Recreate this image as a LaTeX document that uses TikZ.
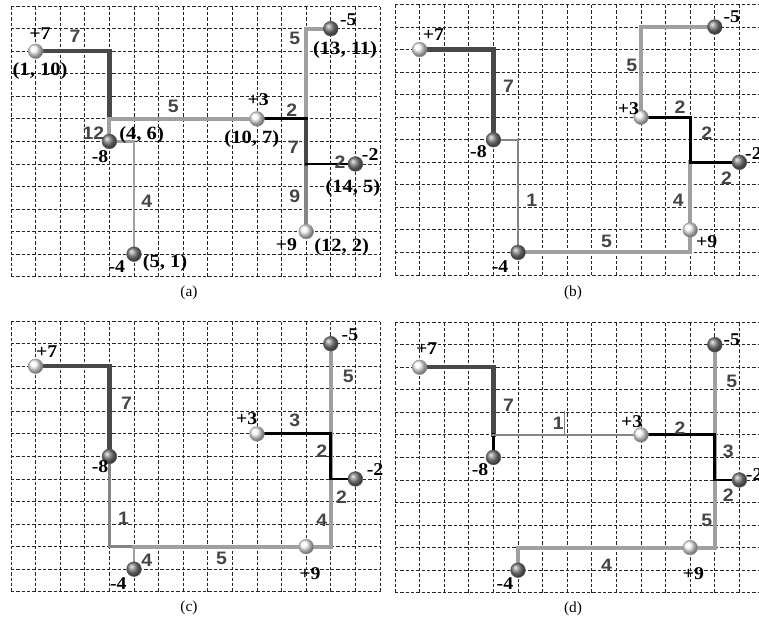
\documentclass[tikz,border=0pt]{standalone}
\usepackage{fontspec}
\setmainfont{Liberation Serif}[FakeStretch=1.1]
\setsansfont{Liberation Sans}[FakeStretch=1.08]
\newfontfamily\capfont{Liberation Serif}
\usetikzlibrary{backgrounds}

\definecolor{griddark}{HTML}{262626}
\definecolor{pathdark}{HTML}{484848}
\definecolor{pathmid}{HTML}{858585}
\definecolor{pathlight}{HTML}{A0A0A0}
\definecolor{weightgray}{HTML}{454545}

\tikzset{
  gridline/.style={griddark, line width=0.7pt, dash pattern=on 2.6pt off 1.4pt},
  darkpath/.style={pathdark, line width=3.2pt, line cap=rect},
  lightpath/.style={pathlight, line width=3pt, line cap=rect},
  midpath/.style={pathmid, line width=3pt, line cap=rect},
  thinpath/.style={pathmid, line width=1.8pt, line cap=rect},
  blackpath/.style={black, line width=2.2pt, line cap=rect},
  posball/.style={circle, inner sep=0pt, minimum size=11pt, shade, ball color=gray!6, draw=gray!80, line width=0.4pt},
  negball/.style={circle, inner sep=0pt, minimum size=11pt, shade, ball color=black!50, draw=black!65, line width=0.4pt},
  charge/.style={font=\fontsize{13.5}{13.5}\selectfont\bfseries, inner sep=0pt},
  place/.style={font=\fontsize{14}{14}\selectfont\bfseries, inner sep=0pt},
  weight/.style={font=\sffamily\bfseries\fontsize{13.5}{13.5}\selectfont, text=weightgray, inner sep=0pt},
  caption/.style={font=\capfont\fontsize{11.5}{11.5}\selectfont, inner sep=0pt},
  panel/.style={x=18.45pt, y=16.91pt},
}

\begin{document}
\begin{tikzpicture}[x=0.75pt, y=-0.75pt]
\useasboundingbox (0,0) rectangle (759,625);

% (a)
\begin{scope}[shift={(11,276.7)}, panel, name prefix=a-]
\begin{scope}[on background layer]
\draw[gridline, step=1] (0,0) grid (15,12);
\end{scope}
\node[posball] (p7) at (1,10) {};
\node[negball] (m8) at (4,6) {};
\node[negball] (m4) at (5,1) {};
\node[posball] (p3) at (10,7) {};
\node[negball] (m5) at (13,11) {};
\node[negball] (m2) at (14,5) {};
\node[posball] (p9) at (12,2) {};
\coordinate (k0) at (4,7);
\coordinate (k1) at (12,7);
\coordinate (k2) at (12,5);
\begin{scope}[on background layer]
\draw[darkpath] (p7) -| (k0);
\draw[lightpath] (m8) |- (p3);
\draw[lightpath, line width=2.2pt] (m8) -| (m4);
\draw[lightpath] (m5) -| (k1);
\draw[midpath] (k2) -- (p9);
\draw[darkpath] (k1) -- (k2);
\draw[blackpath] (p3) -- (k1);
\draw[blackpath] (k2) -- (m2);
\end{scope}
\node[charge] at (1.18,10.8) {+7};
\node[place] at (1.18,9.12) {(1, 10)};
\node[weight] at (2.6,10.64) {7};
\node[weight] at (6.6,7.57) {5};
\node[weight] at (3.35,6.36) {12};
\node[place] at (5.31,6.28) {(4, 6)};
\node[charge] at (3.62,5.32) {-8};
\node[weight] at (5.52,3.33) {4};
\node[charge] at (4.3,0.44) {-4};
\node[place] at (6.26,0.59) {(5, 1)};
\node[charge] at (10.05,7.84) {+3};
\node[place] at (9.79,6.09) {(10, 7)};
\node[weight] at (11.41,7.39) {2};
\node[weight] at (11.48,5.74) {7};
\node[weight] at (13.37,5.1) {2};
\node[charge] at (14.6,5.4) {-2};
\node[place] at (13.9,3.92) {(14, 5)};
\node[weight] at (11.54,3.55) {9};
\node[charge] at (11.2,1.41) {+9};
\node[place] at (13.44,1.33) {(12, 2)};
\node[weight] at (11.54,10.57) {5};
\node[charge] at (13.71,11.38) {-5};
\node[place] at (13.58,10.05) {(13, 11)};
\end{scope}

% (b)
\begin{scope}[shift={(395,275)}, panel, name prefix=b-]
\begin{scope}[on background layer]
\draw[gridline, step=1] (0,0) grid (15,12);
\end{scope}
\node[posball] (p7) at (1,10) {};
\node[negball] (m8) at (4,6) {};
\node[negball] (m4) at (5,1) {};
\node[posball] (p3) at (10,7) {};
\node[negball] (m5) at (13,11) {};
\node[negball] (m2) at (14,5) {};
\node[posball] (p9) at (12,2) {};
\coordinate (k2) at (12,5);
\begin{scope}[on background layer]
\draw[darkpath] (p7) -| (m8);
\draw[thinpath] (m8) -| (m4);
\draw[lightpath] (m4) -| (p9);
\draw[lightpath] (p9) -- (k2);
\draw[lightpath] (p3) |- (m5);
\draw[blackpath] (p3) -| (k2);
\draw[blackpath] (k2) -- (m2);
\end{scope}
\node[charge] at (1.56,10.64) {+7};
\node[weight] at (4.61,8.35) {7};
\node[charge] at (3.39,5.47) {-8};
\node[weight] at (5.56,3.33) {1};
\node[charge] at (4.27,0.37) {-4};
\node[weight] at (8.6,1.48) {5};
\node[charge] at (12.67,1.48) {+9};
\node[weight] at (11.52,3.33) {4};
\node[weight] at (13.48,4.29) {2};
\node[weight] at (12.67,6.28) {2};
\node[weight] at (11.59,7.46) {2};
\node[charge] at (9.49,7.39) {+3};
\node[weight] at (9.62,9.31) {5};
\node[charge] at (13.69,11.45) {-5};
\node[charge] at (14.57,5.4) {-2};
\end{scope}

% (c)
\begin{scope}[shift={(11,591.7)}, panel, name prefix=c-]
\begin{scope}[on background layer]
\draw[gridline, step=1] (0,0) grid (15,12);
\end{scope}
\node[posball] (p7) at (1,10) {};
\node[negball] (m8) at (4,6) {};
\node[negball] (m4) at (5,1) {};
\node[posball] (p3) at (10,7) {};
\node[negball] (m5) at (13,11) {};
\node[negball] (m2) at (14,5) {};
\node[posball] (p9) at (12,2) {};
\coordinate (k2) at (5,2);
\coordinate (k4) at (13,5);
\begin{scope}[on background layer]
\draw[darkpath] (p7) -| (m8);
\draw[thinpath] (m8) |- (k2);
\draw[thinpath, pathlight] (m4) -- (k2);
\draw[lightpath] (k2) -- (p9);
\draw[lightpath] (p9) -| (m5);
\draw[blackpath] (p3) -| (k4);
\draw[blackpath] (k4) -- (m2);
\end{scope}
\node[charge] at (1.45,10.64) {+7};
\node[weight] at (4.7,8.35) {7};
\node[charge] at (3.62,5.54) {-8};
\node[weight] at (4.57,3.25) {1};
\node[weight] at (5.52,1.41) {4};
\node[charge] at (4.36,0.37) {-4};
\node[weight] at (8.56,1.48) {5};
\node[charge] at (12.15,0.82) {+9};
\node[weight] at (12.63,3.18) {4};
\node[weight] at (13.44,4.21) {2};
\node[weight] at (12.63,6.21) {2};
\node[weight] at (11.54,7.61) {3};
\node[charge] at (9.58,7.69) {+3};
\node[weight] at (13.71,9.53) {5};
\node[charge] at (13.78,11.38) {-5};
\node[charge] at (14.8,5.4) {-2};
\end{scope}

% (d)
\begin{scope}[shift={(395,592.7)}, panel, name prefix=d-]
\begin{scope}[on background layer]
\draw[gridline, step=1] (0,0) grid (15,12);
\end{scope}
\node[posball] (p7) at (1,10) {};
\node[negball] (m8) at (4,6) {};
\node[negball] (m4) at (5,1) {};
\node[posball] (p3) at (10,7) {};
\node[negball] (m5) at (13,11) {};
\node[negball] (m2) at (14,5) {};
\node[posball] (p9) at (12,2) {};
\coordinate (k1) at (4,7);
\coordinate (k3) at (13,5);
\coordinate (t1) at (6.9,7);
\coordinate (t2) at (6.9,8.05);
\begin{scope}[on background layer]
\draw[darkpath] (p7) -| (k1);
\draw[blackpath] (k1) -- (m8);
\draw[thinpath] (k1) -- (p3);
\draw[gray, line width=0.4pt] (t1) -- (t2);
\draw[lightpath] (m5) |- (p9);
\draw[lightpath] (p9) -| (m4);
\draw[blackpath] (p3) -| (k3);
\draw[blackpath] (k3) -- (m2);
\end{scope}
\node[charge] at (1.29,10.84) {+7};
\node[weight] at (4.61,8.32) {7};
\node[charge] at (3.46,5.44) {-8};
\node[weight] at (6.64,7.51) {1};
\node[charge] at (9.62,7.58) {+3};
\node[weight] at (11.59,7.29) {2};
\node[weight] at (13.55,6.25) {3};
\node[weight] at (13.55,4.33) {2};
\node[weight] at (13.69,9.36) {5};
\node[charge] at (13.69,11.2) {-5};
\node[weight] at (12.67,3.22) {5};
\node[charge] at (12.13,0.86) {+9};
\node[weight] at (8.6,1.23) {4};
\node[charge] at (4.47,0.42) {-4};
\node[charge] at (14.6,5.25) {-2};
\end{scope}

\node[caption] (capa) at (189,293) {(a)};
\node[caption] (capb) at (573,293) {(b)};
\node[caption] (capc) at (189,608) {(c)};
\node[caption] (capd) at (573,609) {(d)};
\end{tikzpicture}
\end{document}
